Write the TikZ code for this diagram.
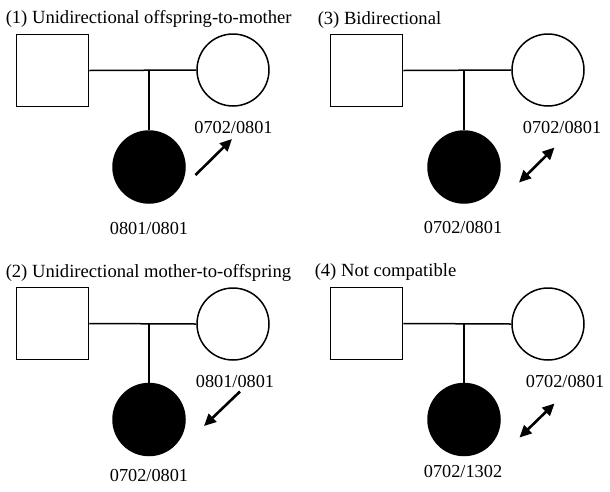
\documentclass[tikz,border=0pt]{standalone}
\usepackage{fontspec}
\setmainfont{Liberation Serif}
\usetikzlibrary{arrows.meta}
\begin{document}
\begin{tikzpicture}[x=1pt,y=-1pt,
  line width=1.5pt,
  male/.style={draw,rectangle,minimum size=72pt,inner sep=0pt},
  female/.style={draw,circle,minimum size=72pt,inner sep=0pt},
  affected/.style={draw,circle,fill=black,minimum size=72pt,inner sep=0pt},
  lab/.style={anchor=base,inner sep=0pt,font=\fontsize{18.3}{21}\selectfont},
  ttl/.style={anchor=base west,inner sep=0pt,font=\fontsize{18.6}{21}\selectfont},
  trans/.style={line width=2.6pt,-{Triangle[length=12pt,width=11pt]}},
  bitrans/.style={line width=2.6pt,{Triangle[length=12pt,width=11pt]}-{Triangle[length=12pt,width=11pt]}}]
\useasboundingbox (0,0) rectangle (610,491);

% ---------- Panel 1 ----------
\node[ttl] (t1) at (5,23) {(1) Unidirectional offspring-to-mother};
\node[male] (f1) at (52.5,70.5) {};
\node[female] (m1) at (233,70) {};
\node[affected] (c1) at (149,167) {};
\coordinate (j1) at (149,70);
\draw (f1.east) -- (m1.west);
\draw (j1) -- (c1.north);
\node[lab] (gm1) at (233.5,133) {0702/0801};
\node[lab] (gc1) at (149,234) {0801/0801};
\coordinate (a1s) at (195.5,175);
\coordinate (a1e) at (232,139);
\draw[trans] (a1s) -- (a1e);

% ---------- Panel 3 ----------
\node[ttl] (t3) at (317,24.5) {(3) Bidirectional};
\node[male] (f3) at (366.5,70.5) {};
\node[female] (m3) at (548,70) {};
\node[affected] (c3) at (464,167) {};
\coordinate (j3) at (464,70);
\draw (f3.east) -- (m3.west);
\draw (j3) -- (c3.north);
\node[lab] (gm3) at (562,133) {0702/0801};
\node[lab] (gc3) at (463,233) {0702/0801};
\coordinate (a3s) at (519,182.5);
\coordinate (a3e) at (554.5,147.5);
\draw[bitrans] (a3s) -- (a3e);

% ---------- Panel 2 ----------
\node[ttl] (t2) at (5,277.5) {(2) Unidirectional mother-to-offspring};
\node[male] (f2) at (52.5,323.5) {};
\node[female] (m2) at (233,324) {};
\node[affected] (c2) at (149,419.5) {};
\coordinate (j2) at (149,324);
\draw (f2.east) -- (m2.west);
\draw (j2) -- (c2.north);
\node[lab] (gm2) at (235,387) {0801/0801};
\node[lab] (gc2) at (149,481) {0702/0801};
\coordinate (a2s) at (240,391.5);
\coordinate (a2e) at (204,426);
\draw[trans] (a2s) -- (a2e);

% ---------- Panel 4 ----------
\node[ttl] (t4) at (314,276.5) {(4) Not compatible};
\node[male] (f4) at (366.5,323.5) {};
\node[female] (m4) at (548,324) {};
\node[affected] (c4) at (464,419.5) {};
\coordinate (j4) at (464,324);
\draw (f4.east) -- (m4.west);
\draw (j4) -- (c4.north);
\node[lab] (gm4) at (565,387) {0702/0801};
\node[lab] (gc4) at (463,477.5) {0702/1302};
\coordinate (a4s) at (519.5,437.5);
\coordinate (a4e) at (554.5,403.5);
\draw[bitrans] (a4s) -- (a4e);
\end{tikzpicture}
\end{document}
